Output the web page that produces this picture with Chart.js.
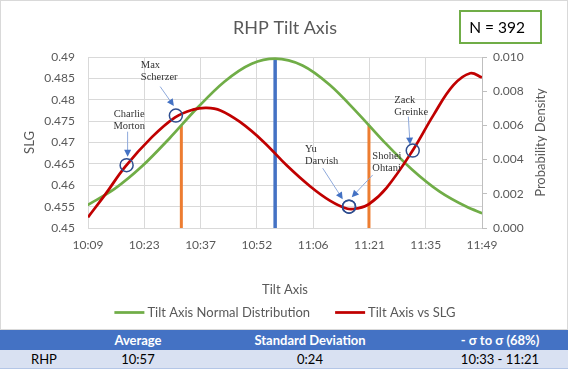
<!DOCTYPE html>
<html>
<head>
<meta charset="utf-8">
<script src="https://cdn.jsdelivr.net/npm/chart.js@4.4.1/dist/chart.umd.min.js"></script>
<style>
  body { margin: 0; background: #fff; }
  #wrap { position: relative; width: 569px; height: 377px; font-family: Lato, sans-serif; }
  #chart { position: absolute; left: 0; top: 0; }
  #stats { position: absolute; left: 0; top: 330px; width: 568px; border-collapse: collapse; table-layout: fixed; font-size: 13px; }
  #stats th { background: #4472C4; color: #fff; font-weight: bold; height: 20px; padding: 0; text-align: center; }
  #stats td { background: #D9E1F2; color: #000; height: 18px; padding: 0; text-align: center; border-bottom: 1px solid #B4C6E7; }
</style>
</head>
<body>
<div id="wrap">
  <canvas id="chart" width="569" height="330"></canvas>
  <table id="stats">
    <colgroup><col style="width:88px"><col style="width:100px"><col style="width:244px"><col style="width:136px"></colgroup>
    <thead><tr id="statsHead"></tr></thead>
    <tbody><tr id="statsRow"></tr></tbody>
  </table>
</div>
<script>
// times are minutes after midnight (609 = 10:09)
const distTimes = [609, 616, 623, 630, 637, 644, 651, 657, 664, 671, 678, 685, 692, 699, 706, 710];
const distDensity = [0.00134, 0.0023, 0.00362, 0.00525, 0.0070, 0.00855, 0.0096, 0.0099, 0.0095, 0.00836, 0.00675, 0.00501, 0.00342, 0.00214, 0.00124, 0.00086];

const slgTimes = [609.1, 613.5, 618.6, 625.4, 631.4, 636.0, 639.5, 643.0, 648.0, 654.0, 660.0, 666.0, 671.0, 675.5, 678.0, 681.0, 685.5, 692.3, 697.5, 702.6, 706.9, 709.9];
const slgValues = [0.4525, 0.4578, 0.4643, 0.4712, 0.4759, 0.4777, 0.4781, 0.4775, 0.4748, 0.4702, 0.4646, 0.4597, 0.4564, 0.4545, 0.4546, 0.4556, 0.4594, 0.4683, 0.4764, 0.4834, 0.4862, 0.4852];

const meanTime = 657;          // 10:57
const meanDensity = 0.0099;
const sigmaTimes = [633, 681]; // 10:33, 11:21
const sigmaDensity = [0.0060, 0.0060];

const players = ['Charlie Morton', 'Max Scherzer', 'Yu Darvish', 'Shohei Ohtani', 'Zack Greinke'];
const playerTimes = [619.0, 631.6, 675.9, 675.9, 692.2];
const playerSLG = [0.4647, 0.4763, 0.4550, 0.4550, 0.4681];

const xTickLabels = ['10:09', '10:23', '10:37', '10:52', '11:06', '11:21', '11:35', '11:49'];
const sampleSize = 392;

const tableHead = ['', 'Average', 'Standard Deviation', '- \u03c3 to \u03c3 (68%)'];
const tableRow = ['RHP', '10:57', '0:24', '10:33 - 11:21'];

// axis window: 0.423 to 0.493 days, major unit 0.01 day
const xMin = 609.12, xStep = 14.4, xMax = xMin + xStep * 7;

// where each callout sits relative to its circle (px)
const callouts = [
  { dx: 2.6, dy: -51, align: 'center', from: [1, -33.5], to: [1, -8.5] },
  { dx: -35, dy: -50, align: 'left', from: [-15.7, -29], to: [-2, -9.5] },
  { dx: -44, dy: -57.7, align: 'left', from: [-26.3, -38.4], to: [-6.3, -7.4] },
  { dx: 23.3, dy: -50, align: 'left', from: [23.7, -31.7], to: [2.7, -9.4] },
  { dx: -18.4, dy: -50.7, align: 'left', from: [-4.4, -34], to: [-2.7, -6] }
];

const gridColor = '#D9D9D9';
const textColor = '#595959';
Chart.defaults.font.family = 'Lato';
Chart.defaults.color = textColor;

const pts = (xs, ys) => xs.map((x, i) => ({ x: x, y: ys[i] }));

const markerSet = {
  label: 'players', yAxisID: 'y', showLine: false,
  data: pts(playerTimes, playerSLG),
  pointRadius: 6.5, pointBorderWidth: 1.5, pointBorderColor: '#2E4D8F', pointBackgroundColor: 'rgba(0,0,0,0)'
};
const slgSet = {
  label: 'Tilt Axis vs SLG', yAxisID: 'y',
  data: pts(slgTimes, slgValues),
  borderColor: '#C00000', borderWidth: 2.75, pointRadius: 0, tension: 0.4
};
const distSet = {
  label: 'Tilt Axis Normal Distribution', yAxisID: 'yR',
  data: pts(distTimes, distDensity),
  borderColor: '#70AD47', borderWidth: 2.75, pointRadius: 0, cubicInterpolationMode: 'monotone'
};
const meanSet = {
  label: 'mean', yAxisID: 'yR',
  data: pts([meanTime, meanTime], [0, meanDensity]),
  borderColor: '#4472C4', borderWidth: 3.5, pointRadius: 0
};
const sigmaSets = sigmaTimes.map((t, i) => ({
  label: 'sigma' + i, yAxisID: 'yR',
  data: pts([t, t], [0, sigmaDensity[i]]),
  borderColor: '#ED7D31', borderWidth: 3, pointRadius: 0
}));

const overlay = {
  id: 'overlay',
  afterDatasetsDraw(chart) {
    const ctx = chart.ctx;
    const marks = chart.getDatasetMeta(0).data;
    ctx.save();
    ctx.font = '10.5px "Liberation Serif"';
    ctx.textBaseline = 'middle';
    callouts.forEach((c, i) => {
      const p = marks[i];
      ctx.fillStyle = '#333';
      ctx.textAlign = c.align;
      players[i].split(' ').forEach((word, k) => ctx.fillText(word, p.x + c.dx, p.y + c.dy + k * 12));
      const x1 = p.x + c.from[0], y1 = p.y + c.from[1];
      const x2 = p.x + c.to[0], y2 = p.y + c.to[1];
      const ang = Math.atan2(y2 - y1, x2 - x1);
      ctx.strokeStyle = '#8EA9DB';
      ctx.lineWidth = 1;
      ctx.beginPath();
      ctx.moveTo(x1, y1);
      ctx.lineTo(x2 - 5 * Math.cos(ang), y2 - 5 * Math.sin(ang));
      ctx.stroke();
      ctx.fillStyle = '#4472C4';
      ctx.beginPath();
      ctx.moveTo(x2, y2);
      ctx.lineTo(x2 - 7 * Math.cos(ang) + 3.5 * Math.sin(ang), y2 - 7 * Math.sin(ang) - 3.5 * Math.cos(ang));
      ctx.lineTo(x2 - 7 * Math.cos(ang) - 3.5 * Math.sin(ang), y2 - 7 * Math.sin(ang) + 3.5 * Math.cos(ang));
      ctx.closePath();
      ctx.fill();
    });
    ctx.restore();
  },
  afterDraw(chart) {
    const ctx = chart.ctx;
    const a = chart.chartArea;
    const mid = (a.left + a.right) / 2;
    ctx.save();
    ctx.strokeStyle = gridColor;
    ctx.lineWidth = 1;
    ctx.strokeRect(0.5, 0.5, chart.width - 2, chart.height - 1);

    ctx.textBaseline = 'middle';
    ctx.textAlign = 'center';
    ctx.fillStyle = textColor;
    ctx.font = '18px Lato';
    ctx.fillText('RHP Tilt Axis', mid, 28);

    ctx.strokeStyle = '#70AD47';
    ctx.lineWidth = 2;
    ctx.strokeRect(460, 11, 81, 32);
    ctx.fillStyle = '#000';
    ctx.font = '15.5px Lato';
    ctx.fillText('N = ' + sampleSize, 497, 27.5);

    // right axis title reads bottom-to-top like the left one
    ctx.fillStyle = textColor;
    ctx.font = '13px Lato';
    ctx.translate(541, (a.top + a.bottom) / 2);
    ctx.rotate(-Math.PI / 2);
    ctx.fillText('Probability Density', 0, 0);
    ctx.setTransform(1, 0, 0, 1, 0, 0);

    // legend
    const items = [distSet, slgSet];
    ctx.font = '13px Lato';
    ctx.textAlign = 'left';
    const widths = items.map(d => 33 + ctx.measureText(d.label).width);
    const total = widths.reduce((s, w) => s + w, 0) + 25 * (items.length - 1);
    let x = mid - total / 2;
    const ly = 312.5;
    items.forEach((d, i) => {
      ctx.strokeStyle = d.borderColor;
      ctx.lineWidth = 2.75;
      ctx.beginPath();
      ctx.moveTo(x, ly);
      ctx.lineTo(x + 30, ly);
      ctx.stroke();
      ctx.fillStyle = textColor;
      ctx.fillText(d.label, x + 33, ly);
      x += widths[i] + 25;
    });
    ctx.restore();
  }
};

new Chart(document.getElementById('chart'), {
  type: 'line',
  data: { datasets: [markerSet, slgSet, distSet, meanSet].concat(sigmaSets) },
  options: {
    responsive: false,
    animation: false,
    events: [],
    layout: { padding: { top: 57, bottom: 32, left: 0, right: 0 } },
    plugins: { legend: { display: false }, tooltip: { enabled: false } },
    scales: {
      x: {
        type: 'linear', min: xMin, max: xMax,
        afterBuildTicks(s) { s.ticks = xTickLabels.map((_, i) => ({ value: xMin + i * xStep })); },
        afterFit(s) { s.height = 70; },
        ticks: { callback: (v, i) => xTickLabels[i], font: { size: 12 }, padding: 10, maxRotation: 0 },
        grid: { color: gridColor, drawTicks: false },
        border: { color: gridColor },
        title: { display: true, text: 'Tilt Axis', font: { size: 13 }, padding: { top: 0, bottom: 0 } }
      },
      y: {
        position: 'left', min: 0.45, max: 0.49,
        afterFit(s) { s.width = 88; },
        ticks: { stepSize: 0.005, callback: v => String(+v.toFixed(3)), font: { size: 12 }, padding: 13 },
        grid: { color: gridColor, drawTicks: false },
        border: { color: gridColor },
        title: { display: true, text: 'SLG', font: { size: 13 }, padding: { top: 22, bottom: 0 } }
      },
      yR: {
        position: 'right', min: 0, max: 0.010,
        afterFit(s) { s.width = 87; },
        ticks: { stepSize: 0.002, callback: v => v.toFixed(3), font: { size: 12 }, padding: 6 },
        grid: { drawOnChartArea: false, drawTicks: true, tickLength: 5, tickColor: '#BFBFBF' },
        border: { color: '#BFBFBF' }
      }
    }
  },
  plugins: [overlay]
});

document.getElementById('statsHead').innerHTML = tableHead.map(h => '<th>' + h + '</th>').join('');
document.getElementById('statsRow').innerHTML = tableRow.map(c => '<td>' + c + '</td>').join('');
</script>
</body>
</html>
